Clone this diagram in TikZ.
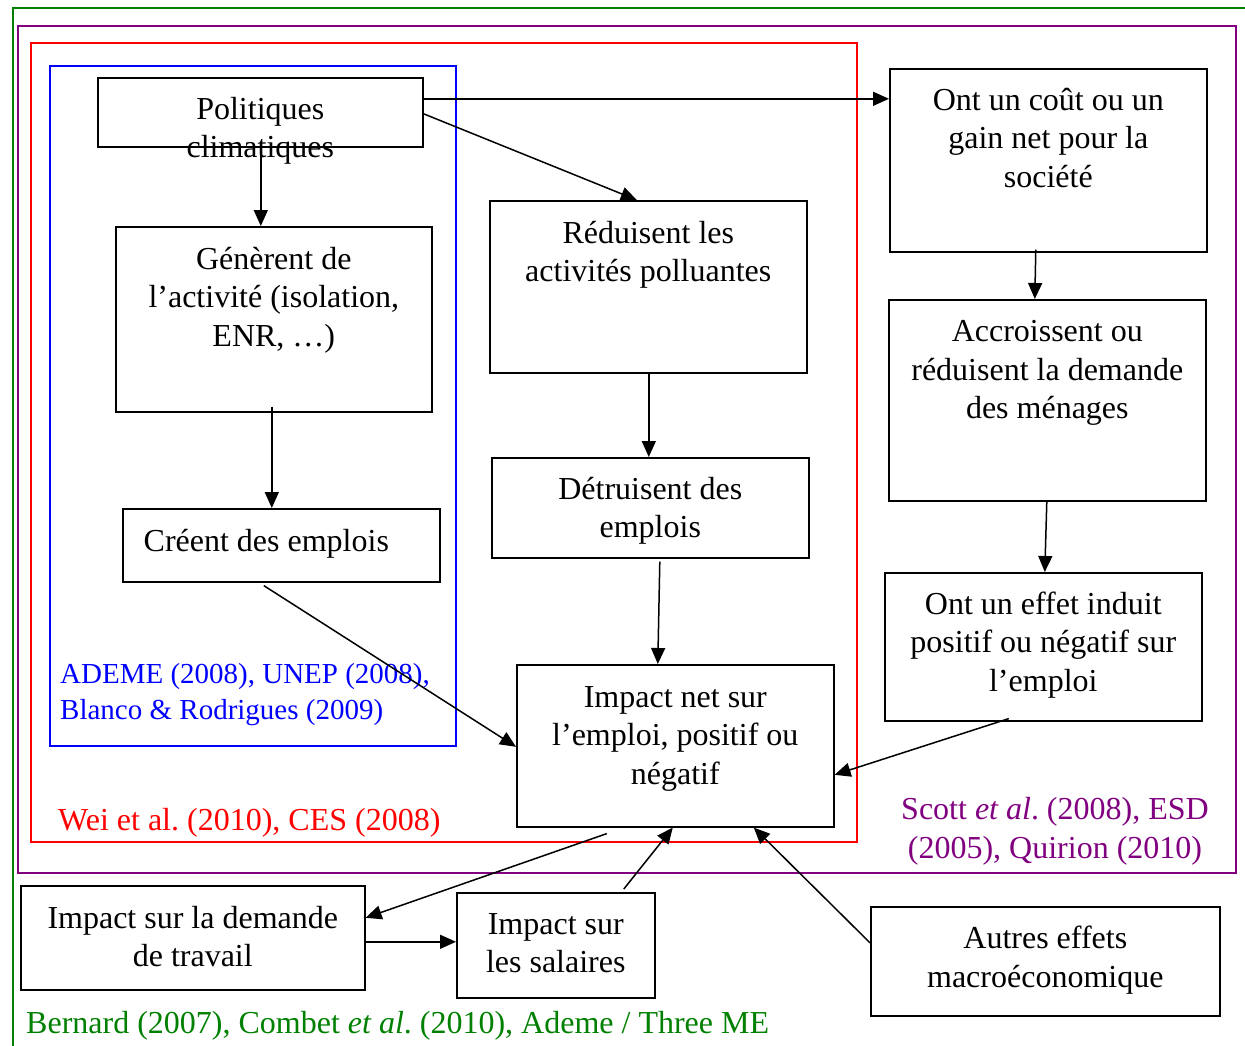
\documentclass[tikz,border=0pt]{standalone}
\usepackage{fontspec}
\setmainfont{Liberation Serif}
\usetikzlibrary{arrows.meta,calc}
\definecolor{cgreen}{RGB}{0,128,0}
\definecolor{cpurple}{RGB}{128,0,128}
\definecolor{cred}{RGB}{255,0,0}
\definecolor{cblue}{RGB}{0,0,255}
\frenchspacing
\begin{document}
\begin{tikzpicture}[x=1pt,y=-1pt,
  box/.style={draw=black, line width=1.6pt, anchor=north west, inner sep=0pt, minimum width=317pt},
  txt/.style={font=\fontsize{32}{38.5}\selectfont, align=center, anchor=base, inner sep=0pt},
  lbl/.style={inner sep=0pt, anchor=base west},
  arr/.style={line width=1.5pt, -{Triangle[length=16pt,width=14pt]}},
  frame/.style={line width=2.2pt}]
\useasboundingbox (0,0) rectangle (1245,1045);
% frames
\draw[frame, cgreen] (13,1050) -- (13,8) -- (1250,8);
\draw[frame, cpurple] (18,26) rectangle (1236,873);
\draw[frame, cred] (31,43) rectangle (857,842);
\draw[frame, cblue] (50,66) rectangle (456,746);
% boxes
\node[box, minimum width=325pt, minimum height=69pt] (pol) at (97,77) {};
\node[box, minimum width=316pt, minimum height=185pt] (gen) at (115,226) {};
\node[box, minimum height=73pt] (cre) at (122,508) {};
\node[box, minimum height=172pt] (red) at (489,200) {};
\node[box, minimum height=100pt] (det) at (491,457) {};
\node[box, minimum height=162pt] (imp) at (516,664) {};
\node[box, minimum height=183pt] (cout) at (889,68) {};
\node[box, minimum height=201pt] (acc) at (888,299) {};
\node[box, minimum height=148pt] (eff) at (884,572) {};
\node[box, minimum width=344pt, minimum height=104pt] (dem) at (20,885) {};
\node[box, minimum width=198pt, minimum height=105pt] (sal) at (456,892) {};
\node[box, minimum width=349pt, minimum height=109pt] (aut) at (870,906) {};
% texts (base anchor = baseline of last line)
\node[txt] (tpol) at ([yshift=-80.5pt]pol.north) {Politiques\\climatiques};
\node[txt] (tgen) at ([yshift=-120pt]gen.north) {Génèrent de\\l’activité (isolation,\\ENR, …)};
\node[txt] (tcre) at ([xshift=-15pt,yshift=-43pt]cre.north) {Créent des emplois};
\node[txt] (tred) at ([yshift=-81.5pt]red.north) {Réduisent les\\activités polluantes};
\node[txt] (tdet) at ([yshift=-80.5pt]det.north) {Détruisent des\\emplois};
\node[txt] (timp) at ([yshift=-120pt]imp.north) {Impact net sur\\l’emploi, positif ou\\négatif};
\node[txt] (tcout) at ([yshift=-119pt]cout.north) {Ont un coût ou un\\gain net pour la\\société};
\node[txt] (tacc) at ([yshift=-119.5pt]acc.north) {Accroissent ou\\réduisent la demande\\des ménages};
\node[txt] (teff) at ([yshift=-119pt]eff.north) {Ont un effet induit\\positif ou négatif sur\\l’emploi};
\node[txt] (tdem) at ([yshift=-81.5pt]dem.north) {Impact sur la demande\\de travail};
\node[txt] (tsal) at ([yshift=-80.5pt]sal.north) {Impact sur\\les salaires};
\node[txt] (taut) at ([yshift=-81pt]aut.north) {Autres effets\\macroéconomique};
% labels
\node[lbl, text=cblue, font=\fontsize{29}{36}\selectfont, align=left, anchor=base west] (lblue) at (60,719) {ADEME (2008), UNEP (2008),\\Blanco \& Rodrigues (2009)};
\node[lbl, text=cred, font=\fontsize{32}{38.5}\selectfont] (lred) at (58,830) {Wei et al. (2010), CES (2008)};
\node[txt, text=cpurple] (lpurple) at (1055,858) {Scott \textit{et al}. (2008), ESD\\(2005), Quirion (2010)};
\node[lbl, text=cgreen, font=\fontsize{32}{38.5}\selectfont] (lgreen) at (26,1033) {Bernard (2007), Combet \textit{et al}. (2010), Ademe / Three ME};
% arrows
\draw[arr] ([xshift=0.5pt]pol.south) -- ([xshift=-13pt]gen.north);
\draw[arr] ([yshift=13.5pt]pol.east) -- ([yshift=13.5pt]pol.east -| cout.west);
\draw[arr] ([yshift=-1.5pt]pol.east) -- ([xshift=-11.5pt]red.north);
\draw[arr] ([xshift=-2pt,yshift=6pt]gen.south) -- ([xshift=-9.5pt]cre.north);
\draw[arr] ([xshift=0.5pt,yshift=2pt]red.south) -- ([xshift=-1.5pt]det.north);
\draw[arr] ([xshift=9.5pt,yshift=-3pt]det.south) -- ([xshift=-17.5pt]imp.north);
\draw[arr] ([xshift=-17.5pt,yshift=-3pt]cre.south) -- ([yshift=-1pt]imp.west);
\draw[arr] ([xshift=-12.5pt,yshift=3pt]cout.south) -- ([xshift=-12.5pt]acc.north);
\draw[arr] ([xshift=-0.5pt]acc.south) -- ([xshift=1.5pt]eff.north);
\draw[arr] ([xshift=-34.5pt,yshift=3pt]eff.south) -- ([yshift=-29pt]imp.east);
\draw[arr] ([xshift=-68.5pt,yshift=-6pt]imp.south) -- ([yshift=20pt]dem.east);
\draw[arr] ([yshift=-4pt]dem.east) -- ([yshift=-4pt]dem.east -| sal.west);
\draw[arr] ([xshift=68pt,yshift=3pt]sal.north) -- ([xshift=-2.5pt]imp.south);
\draw[arr] ([yshift=18.5pt]aut.west) -- ([xshift=78.5pt]imp.south);
\end{tikzpicture}
\end{document}
